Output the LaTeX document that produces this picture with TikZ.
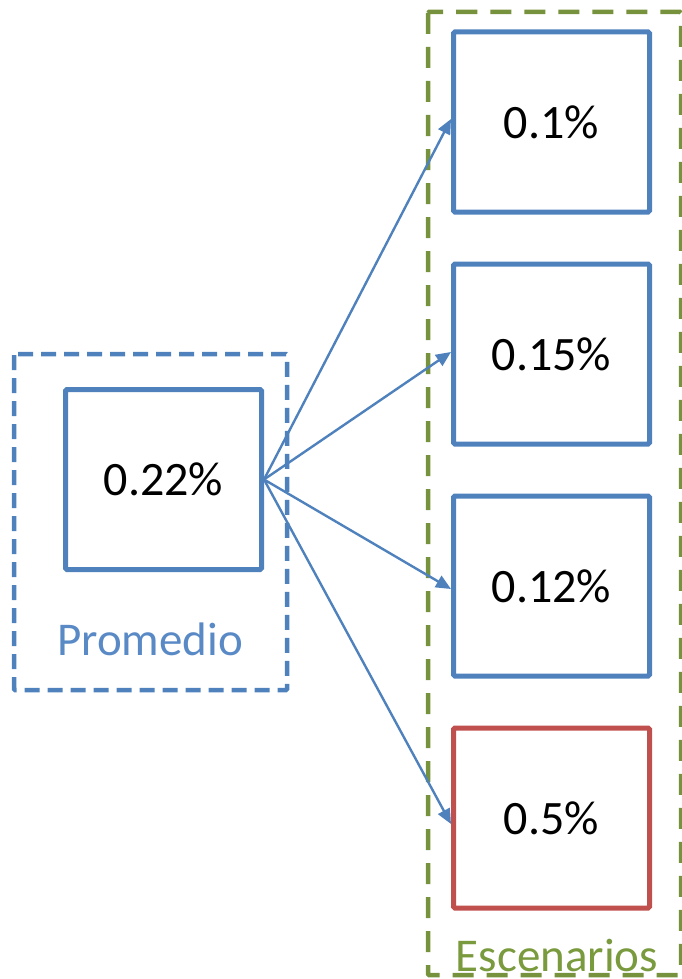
\documentclass[tikz,border=0pt]{standalone}
\usepackage{fontspec}
\setmainfont{Carlito}
\usetikzlibrary{arrows.meta}
\definecolor{bblue}{HTML}{4F81BD}
\definecolor{tblue}{HTML}{5A8AC6}
\definecolor{rred}{HTML}{C0504D}
\definecolor{ggreen}{HTML}{76923C}
\definecolor{tgreen}{HTML}{7A9A3E}
\tikzset{
  valbox/.style={draw=bblue, line width=5pt, minimum width=196pt, minimum height=180pt, inner sep=0pt, font=\fontsize{48}{50}\selectfont, rounded corners=1.5pt},
  redbox/.style={valbox, draw=rred},
  conn/.style={draw=bblue, line width=2.4pt, -{Triangle[length=15pt,width=13pt]}},
  grp/.style={line width=4.5pt, rounded corners=1pt},
  lbl/.style={font=\fontsize{47}{50}\selectfont, inner sep=0pt, anchor=base}
}
\begin{document}
\begin{tikzpicture}[x=1pt,y=-1pt]
\useasboundingbox (0,0) rectangle (682,979);
\clip (0,0) rectangle (682,979);
% group frames
\draw[grp, draw=bblue, dash pattern=on 15pt off 8pt] (14,354) rectangle (287,690);
\draw[grp, draw=ggreen, dash pattern=on 21pt off 13pt] (428,12) rectangle (681,975);
% nodes
\node[valbox] (avg) at (163.5,479.5) {0.22\%};
\node[valbox] (s1) at (551.5,122) {0.1\%};
\node[valbox] (s2) at (551.5,354) {0.15\%};
\node[valbox] (s3) at (551.5,586) {0.12\%};
\node[redbox] (s4) at (551.5,818) {0.5\%};
\node[lbl, text=tblue] (plbl) at (150,655) {Promedio};
\node[lbl, text=tgreen] (elbl) at (557,971) {Escenarios};
% connectors
\draw[conn] (avg.east) -- ([yshift=3pt]s1.west);
\draw[conn] (avg.east) -- ([yshift=2pt]s2.west);
\draw[conn] (avg.east) -- ([yshift=-3pt]s3.west);
\draw[conn] (avg.east) -- ([yshift=-6pt]s4.west);
\end{tikzpicture}
\end{document}
